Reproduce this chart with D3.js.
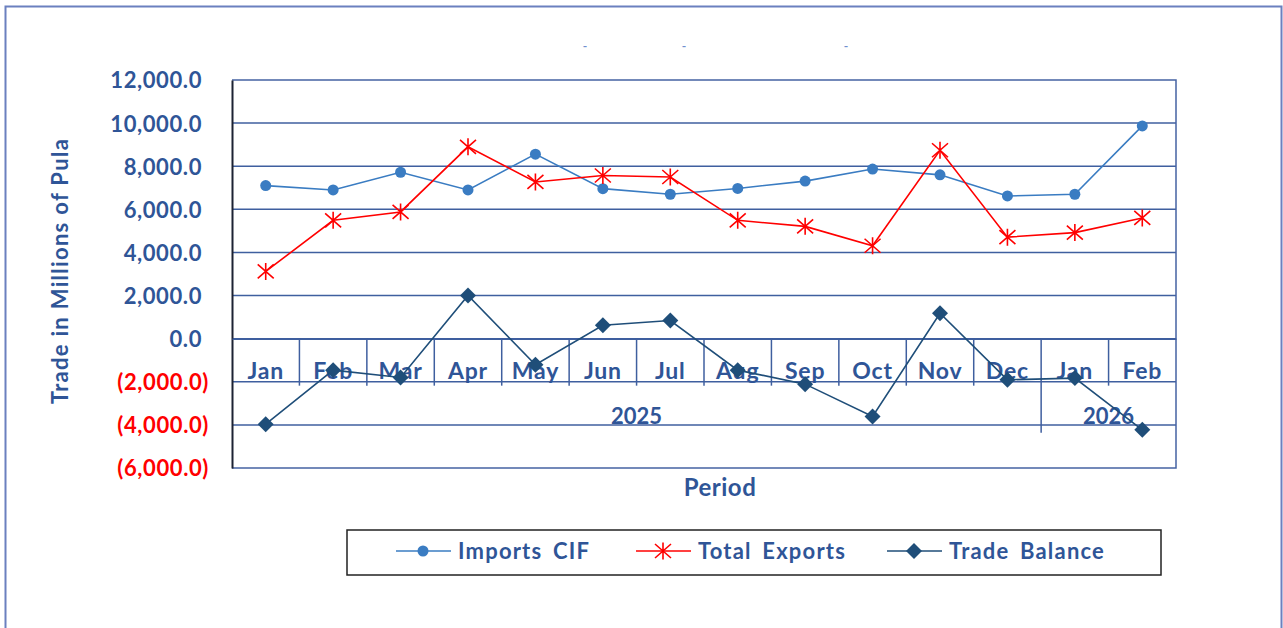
<!DOCTYPE html>
<html>
<head>
<meta charset="utf-8">
<script src="https://cdn.jsdelivr.net/npm/d3@7"></script>
<style>
  body { margin: 0; background: #fff; }
  svg { display: block; }
  text { font-family: Lato, "Open Sans", sans-serif; font-weight: 700; }
</style>
</head>
<body>
<svg id="chart" width="1283" height="628"></svg>
<script>
// Monthly trade figures, millions of Pula
const months = ["Jan", "Feb", "Mar", "Apr", "May", "Jun", "Jul", "Aug", "Sep", "Oct", "Nov", "Dec", "Jan", "Feb"];
const years = [
  { label: "2025", first: 0, last: 11 },
  { label: "2026", first: 12, last: 13 }
];
const importsCIF   = [7100, 6900, 7720, 6900, 8560, 6960, 6700, 6970, 7310, 7870, 7600, 6620, 6700, 9870];
const totalExports = [3120, 5490, 5880, 8900, 7270, 7570, 7500, 5490, 5210, 4310, 8740, 4710, 4920, 5600];
const tradeBalance = [-3970, -1460, -1800, 2000, -1210, 620, 840, -1460, -2110, -3610, 1180, -1910, -1830, -4230];
const yTicks = [-6000, -4000, -2000, 0, 2000, 4000, 6000, 8000, 10000, 12000];
const seriesNames = ["Imports CIF", "Total Exports", "Trade Balance"];

const BLUE_TEXT = "#2f5597";
const GRID = "#3f5f9f";
const COL_IMP = "#3a7cc2";
const COL_EXP = "#ff0000";
const COL_BAL = "#1f4e79";

const svg = d3.select("#chart");
const plot = { left: 232, right: 1176, top: 80, bottom: 468 };

const x = d3.scaleBand().domain(d3.range(months.length)).range([plot.left, plot.right]).padding(0);
const y = d3.scaleLinear().domain([-6000, 12000]).range([plot.bottom, plot.top]);
const cx = i => x(i) + x.bandwidth() / 2;

// outer chart frame
svg.append("path")
  .attr("d", "M5.5,628 V6.5 H1281.5 V628")
  .attr("fill", "none").attr("stroke", "#6b80bf").attr("stroke-width", 2);

// remnants of the title line
[585, 684, 846].forEach(px => {
  svg.append("text").attr("x", px).attr("y", 50).attr("text-anchor", "middle")
    .attr("font-size", 12).attr("fill", "#7090cf").text("-");
});

// horizontal gridlines
svg.append("g").selectAll("line").data(yTicks.filter(v => v !== -6000 && v !== 12000)).join("line")
  .attr("x1", plot.left).attr("x2", plot.right)
  .attr("y1", d => y(d)).attr("y2", d => y(d))
  .attr("stroke", GRID).attr("stroke-width", 1.5);

// plot border (top, right, bottom)
svg.append("path")
  .attr("d", `M${plot.left},${plot.top} H${plot.right} V${plot.bottom} H${plot.left}`)
  .attr("fill", "none").attr("stroke", "#4563a3").attr("stroke-width", 1.5);

// value axis
const fmt = d3.format(",.1f");
const yAxis = svg.append("g").attr("transform", `translate(${plot.left},0)`)
  .call(d3.axisLeft(y).tickValues(yTicks).tickSize(0).tickPadding(30)
    .tickFormat(d => d < 0 ? `(${fmt(-d)})` : fmt(d)));
yAxis.select(".domain").attr("stroke", "#1c2233").attr("stroke-width", 2);
yAxis.selectAll(".tick text")
  .attr("font-size", 22)
  .attr("letter-spacing", 0.6)
  .attr("font-family", "Lato, sans-serif")
  .attr("fill", d => d < 0 ? "#ff0000" : BLUE_TEXT)
  .attr("x", d => d < 0 ? -23 : -30)
  .attr("dy", "0.36em");

// category axis along the zero line
const y0 = y(0);
const xAxis = svg.append("g").attr("transform", `translate(0,${y0})`)
  .call(d3.axisBottom(x).tickSize(0).tickFormat(i => months[i]));
xAxis.select(".domain").attr("stroke", GRID).attr("stroke-width", 1.5);
xAxis.selectAll(".tick text")
  .attr("font-size", 23).attr("letter-spacing", 0.8).attr("fill", BLUE_TEXT)
  .attr("y", 40).attr("dy", 0);

// dividers between months
svg.append("g").selectAll("line").data(d3.range(1, months.length)).join("line")
  .attr("x1", i => x(i)).attr("x2", i => x(i))
  .attr("y1", y0).attr("y2", i => years.some(yr => yr.first === i) ? y0 + 94 : y0 + 47)
  .attr("stroke", GRID).attr("stroke-width", 1.5);

// year labels
svg.append("g").selectAll("text").data(years).join("text")
  .attr("x", d => (x(d.first) + x(d.last) + x.bandwidth()) / 2)
  .attr("y", y0 + 85)
  .attr("text-anchor", "middle").attr("font-size", 22).attr("fill", BLUE_TEXT)
  .text(d => d.label);

// axis titles
svg.append("text").attr("x", 720).attr("y", 496).attr("text-anchor", "middle")
  .attr("font-size", 24).attr("letter-spacing", 0.5).attr("fill", BLUE_TEXT).text("Period");
svg.append("text").attr("transform", "translate(68,271) rotate(-90)")
  .attr("text-anchor", "middle").attr("font-size", 22).attr("letter-spacing", 1.3).attr("fill", BLUE_TEXT)
  .text("Trade in Millions of Pula");

// markers
const starPath = "M0,-8.5 V8.5 M-8,-7 L8,7 M-8,7 L8,-7";
const diamondPath = "M0,-8 L8,0 L0,8 L-8,0 Z";

function drawSeries(values, color, width, marker) {
  const g = svg.append("g");
  g.append("path").datum(values)
    .attr("d", d3.line().x((d, i) => cx(i)).y(d => y(d)))
    .attr("fill", "none").attr("stroke", color).attr("stroke-width", width);
  const pts = g.selectAll("g").data(values).join("g")
    .attr("transform", (d, i) => `translate(${cx(i)},${y(d)})`);
  marker(pts, color);
}
const circleMarker = (sel, c) => sel.append("circle").attr("r", 5.5).attr("fill", c);
const starMarker = (sel, c) => sel.append("path").attr("d", starPath).attr("fill", "none").attr("stroke", c).attr("stroke-width", 1.6);
const diamondMarker = (sel, c) => sel.append("path").attr("d", diamondPath).attr("fill", c);

drawSeries(importsCIF, COL_IMP, 1.6, circleMarker);
drawSeries(totalExports, COL_EXP, 1.6, starMarker);
drawSeries(tradeBalance, COL_BAL, 1.6, diamondMarker);

// legend
const legend = svg.append("g");
legend.append("rect").attr("x", 347).attr("y", 530).attr("width", 814).attr("height", 45)
  .attr("fill", "#fff").attr("stroke", "#222").attr("stroke-width", 1.5);
const legendItems = [
  { name: seriesNames[0], color: COL_IMP, marker: circleMarker, x0: 396 },
  { name: seriesNames[1], color: COL_EXP, marker: starMarker, x0: 636 },
  { name: seriesNames[2], color: COL_BAL, marker: diamondMarker, x0: 887 }
];
legendItems.forEach(it => {
  const g = legend.append("g");
  g.append("line").attr("x1", it.x0).attr("x2", it.x0 + 55).attr("y1", 551).attr("y2", 551)
    .attr("stroke", it.color).attr("stroke-width", 1.6);
  const m = g.append("g").attr("transform", `translate(${it.x0 + 27},551)`);
  it.marker(m, it.color);
  g.append("text").attr("x", it.x0 + 62).attr("y", 559).attr("font-size", 22)
    .attr("letter-spacing", 1.2).attr("word-spacing", 4)
    .attr("fill", BLUE_TEXT).text(it.name);
});
</script>
</body>
</html>
